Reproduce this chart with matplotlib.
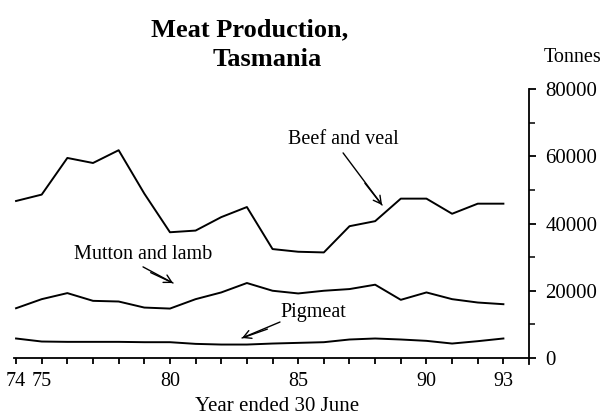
import matplotlib
matplotlib.use("Agg")
import matplotlib.pyplot as plt
import matplotlib.ticker as mticker

# Meat production, Tasmania (tonnes), years ended 30 June 1974-1993
years = list(range(74, 94))
beef = [46700, 48600, 59500, 58000, 61800, 48900, 37400, 37900, 41900, 44900,
        32400, 31600, 31400, 39200, 40700, 47400, 47400, 42900, 45900, 45900]
mutton = [14800, 17500, 19300, 17000, 16800, 15000, 14700, 17500, 19500, 22300,
          20000, 19200, 20000, 20500, 21800, 17300, 19500, 17500, 16500, 16000]
pigmeat = [5800, 4900, 4800, 4800, 4800, 4700, 4700, 4200, 4000, 4000,
           4300, 4500, 4700, 5500, 5800, 5500, 5100, 4300, 5000, 5800]
xtick_labels = {74: "74", 75: "75", 80: "80", 85: "85", 90: "90", 93: "93"}

plt.rcParams["font.family"] = ["Liberation Serif", "DejaVu Serif"]

fig = plt.figure(figsize=(6.14, 4.17), dpi=100)
ax = fig.add_axes([0.0228, 0.1415, 0.838, 0.645])

for s in (beef, mutton, pigmeat):
    ax.plot(years, s, color="black", lw=1.4)

ax.set_xlim(73.92, 93.98)
ax.set_ylim(0, 80000)

for side in ("top", "left"):
    ax.spines[side].set_visible(False)
ax.spines["bottom"].set_linewidth(1.3)
ax.spines["right"].set_linewidth(1.3)
ax.spines["right"].set_bounds(-1800, 80000)   # right axis pokes just below the x axis

# x axis: tick every year, labels on selected years only
ax.xaxis.set_major_locator(mticker.FixedLocator(years))
ax.xaxis.set_major_formatter(mticker.FuncFormatter(lambda v, _p: xtick_labels.get(int(round(v)), "")))
ax.tick_params(axis="x", direction="out", length=4, width=1.3, labelsize=14.5, pad=6)

# tonnes on the right-hand axis
ax.yaxis.tick_right()
ax.yaxis.set_major_locator(mticker.MultipleLocator(20000))
ax.yaxis.set_minor_locator(mticker.MultipleLocator(10000))
ax.yaxis.set_major_formatter(mticker.FuncFormatter(lambda v, _p: f"{int(v)}"))
ax.tick_params(axis="y", which="major", direction="out", length=5, width=1.3, labelsize=15, pad=7)
ax.tick_params(axis="y", which="minor", direction="out", length=4, width=1.1)

ax.set_xlabel("Year ended 30 June", fontsize=15, va="center")
ax.xaxis.set_label_coords(0.511, -0.18)

fig.text(250 / 614, 1 - 30 / 417, "Meat Production,", ha="center", va="center",
         fontsize=19, fontweight="bold")
fig.text(267 / 614, 1 - 59 / 417, "Tasmania", ha="center", va="center",
         fontsize=19, fontweight="bold")
fig.text(573 / 614, 1 - 57 / 417, "Tonnes", ha="center", va="center", fontsize=14.5)


def label(txt, xy_txt, tail, tip, split):
    """Series label with a hand-drawn style double-stroke arrow."""
    ax.text(*xy_txt, txt, ha="center", va="center", fontsize=14.5)
    ax.annotate("", xy=tip, xytext=tail,
                arrowprops=dict(arrowstyle="->, head_length=0.55, head_width=0.3",
                                color="black", lw=1.0, shrinkA=0, shrinkB=0))
    ax.annotate("", xy=tip, xytext=split,
                arrowprops=dict(arrowstyle="-", color="black", lw=1.0, shrinkA=0, shrinkB=0))


label("Beef and veal", (86.75, 64900), (86.75, 61000), (88.27, 45500), (87.6, 52000))
label("Mutton and lamb", (78.97, 30650), (78.95, 27100), (80.12, 22300), (79.25, 25400))
label("Pigmeat", (85.6, 13500), (84.29, 10700), (82.81, 5950), (83.8, 8600))

fig.savefig("out.png", dpi=100)
